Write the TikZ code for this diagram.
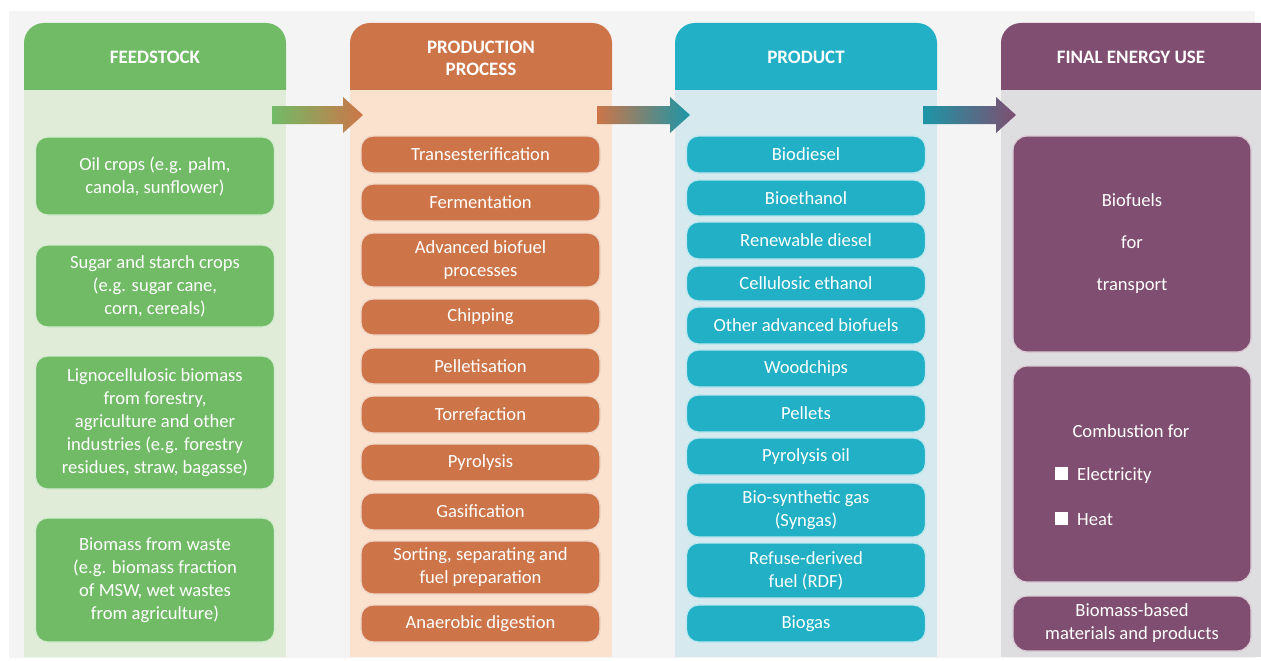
\documentclass[tikz,border=0pt]{standalone}
\usepackage{fontspec}
\setmainfont{Carlito}

\definecolor{panel}{RGB}{244,244,244}
\definecolor{grnDark}{RGB}{113,187,103}
\definecolor{grnLight}{RGB}{224,236,216}
\definecolor{orgDark}{RGB}{205,117,72}
\definecolor{orgLight}{RGB}{250,226,206}
\definecolor{tealDark}{RGB}{33,176,197}
\definecolor{tealLight}{RGB}{214,233,239}
\definecolor{purDark}{RGB}{127,78,112}
\definecolor{purLight}{RGB}{222,222,225}

\newcommand{\boxfont}{\fontsize{18.6}{23}\selectfont}
\newcommand{\headfont}{\bfseries\fontsize{19}{22}\selectfont}
\newcommand{\sqbul}{\textcolor{white}{\rule{13pt}{13pt}}}

\begin{document}
\begin{tikzpicture}[x=1pt,y=-1pt]
	\tikzset{box/.style = {shape=rectangle,rounded corners=12pt,fill=#1,draw=white!70!#1,line width=1.3pt,text=white,align=center,minimum width=239pt,inner sep=0pt,font=\boxfont}}
	\tikzset{headtxt/.style = {text=white,align=center,font=\headfont}}
	\tikzset{txt/.style = {text=white,inner sep=0pt,font=\boxfont}}
	\useasboundingbox (0,0) rectangle (1261,661);
	\fill[white] (0,0) rectangle (1261,661);
	\fill[panel] (9,11) rectangle (1255,658);
	% columns
	\fill[grnDark, rounded corners=20pt] (24,23) rectangle (286,110);
	\fill[grnLight] (24,90) rectangle (286,657);
	\fill[orgDark, rounded corners=20pt] (350,23) rectangle (612,110);
	\fill[orgLight] (350,90) rectangle (612,657);
	\fill[tealDark, rounded corners=20pt] (675,23) rectangle (937,110);
	\fill[tealLight] (675,90) rectangle (937,657);
	\fill[purDark, rounded corners=20pt] (1001,23) rectangle (1280,110);
	\fill[purLight] (1001,90) rectangle (1261,657);
	\node[headtxt] (fshead) at (155,57) {FEEDSTOCK};
	\node[headtxt] (pphead) at (481,58) {PRODUCTION\\PROCESS};
	\node[headtxt] (prhead) at (806,57) {PRODUCT};
	\node[headtxt] (fehead) at (1131,57) {FINAL ENERGY USE};
	% arrows
	\coordinate (arr1) at (272,115);
	\coordinate (arr2) at (597,115);
	\coordinate (arr3) at (923,115);
	\shade[shift={(arr1)}, left color=grnDark, right color=orgDark] (0,-9) -- (71,-9) -- (71,-18) -- (91,0) -- (71,18) -- (71,9) -- (0,9) -- cycle;
	\shade[shift={(arr2)}, left color=orgDark, right color=tealDark!85!black] (0,-9) -- (73,-9) -- (73,-18) -- (93,0) -- (73,18) -- (73,9) -- (0,9) -- cycle;
	\shade[shift={(arr3)}, left color=tealDark!85!black, right color=purDark] (0,-9) -- (73,-9) -- (73,-18) -- (93,0) -- (73,18) -- (73,9) -- (0,9) -- cycle;
	% feedstock
	\node[box=grnDark, minimum height=78pt] (oil) at (155,176) {Oil crops (e.g. palm,\\canola, sunflower)};
	\node[box=grnDark, minimum height=82pt] (sugar) at (155,286) {Sugar and starch crops\\(e.g. sugar cane,\\corn, cereals)};
	\node[box=grnDark, minimum height=133pt] (ligno) at (155,422.5) {Lignocellulosic biomass\\from forestry,\\agriculture and other\\industries (e.g. forestry\\residues, straw, bagasse)};
	\node[box=grnDark, minimum height=124pt] (waste) at (155,580) {Biomass from waste\\(e.g. biomass fraction\\of MSW, wet wastes\\from agriculture)};
	% production process
	\node[box=orgDark, minimum height=37pt] (trans) at (480.5,154.5) {Transesterification};
	\node[box=orgDark, minimum height=37pt] (ferm) at (480.5,202.5) {Fermentation};
	\node[box=orgDark, minimum height=54pt] (advp) at (480.5,260) {Advanced biofuel\\processes};
	\node[box=orgDark, minimum height=36pt] (chip) at (480.5,317) {Chipping};
	\node[box=orgDark, minimum height=36pt] (pellp) at (480.5,366) {Pelletisation};
	\node[box=orgDark, minimum height=37pt] (torr) at (480.5,414.5) {Torrefaction};
	\node[box=orgDark, minimum height=37pt] (pyro) at (480.5,462.5) {Pyrolysis};
	\node[box=orgDark, minimum height=37pt] (gasif) at (480.5,511.5) {Gasification};
	\node[box=orgDark, minimum height=53pt] (sort) at (480.5,567.5) {Sorting, separating and\\fuel preparation};
	\node[box=orgDark, minimum height=37pt] (anaer) at (480.5,623.5) {Anaerobic digestion};
	% product
	\node[box=tealDark, minimum height=37pt] (biodsl) at (806,154.5) {Biodiesel};
	\node[box=tealDark, minimum height=36pt] (bioeth) at (806,198) {Bioethanol};
	\node[box=tealDark, minimum height=37pt] (rendsl) at (806,240.5) {Renewable diesel};
	\node[box=tealDark, minimum height=35pt] (celleth) at (806,283.5) {Cellulosic ethanol};
	\node[box=tealDark, minimum height=37pt] (othadv) at (806,325.5) {Other advanced biofuels};
	\node[box=tealDark, minimum height=37pt] (wood) at (806,368.5) {Woodchips};
	\node[box=tealDark, minimum height=37pt] (pells) at (806,413.5) {Pellets};
	\node[box=tealDark, minimum height=37pt] (pyoil) at (806,456.5) {Pyrolysis oil};
	\node[box=tealDark, minimum height=54pt] (syngas) at (806,510) {Bio-synthetic gas\\(Syngas)};
	\node[box=tealDark, minimum height=55pt] (rdf) at (806,570.5) {Refuse-derived\\fuel (RDF)};
	\node[box=tealDark, minimum height=37pt] (biogas) at (806,623.5) {Biogas};
	% final energy use
	\node[box=purDark, minimum width=238pt, minimum height=216pt, rounded corners=14pt, font=\fontsize{18.6}{42}\selectfont] (transp) at (1132,244) {Biofuels\\for\\transport};
	\node[box=purDark, minimum width=238pt, minimum height=216pt, rounded corners=14pt] (comb) at (1132,474) {};
	\node[txt] (combttl) at (1131,431) {Combustion for};
	\node[txt, anchor=west] (elec) at (1055,475) {\sqbul\hspace{9pt}Electricity};
	\node[txt, anchor=west] (heat) at (1055,519) {\sqbul\hspace{9pt}Heat};
	\node[box=purDark, minimum width=238pt, minimum height=55pt, rounded corners=14pt] (matl) at (1132,623.5) {Biomass-based\\materials and products};
\end{tikzpicture}
\end{document}
